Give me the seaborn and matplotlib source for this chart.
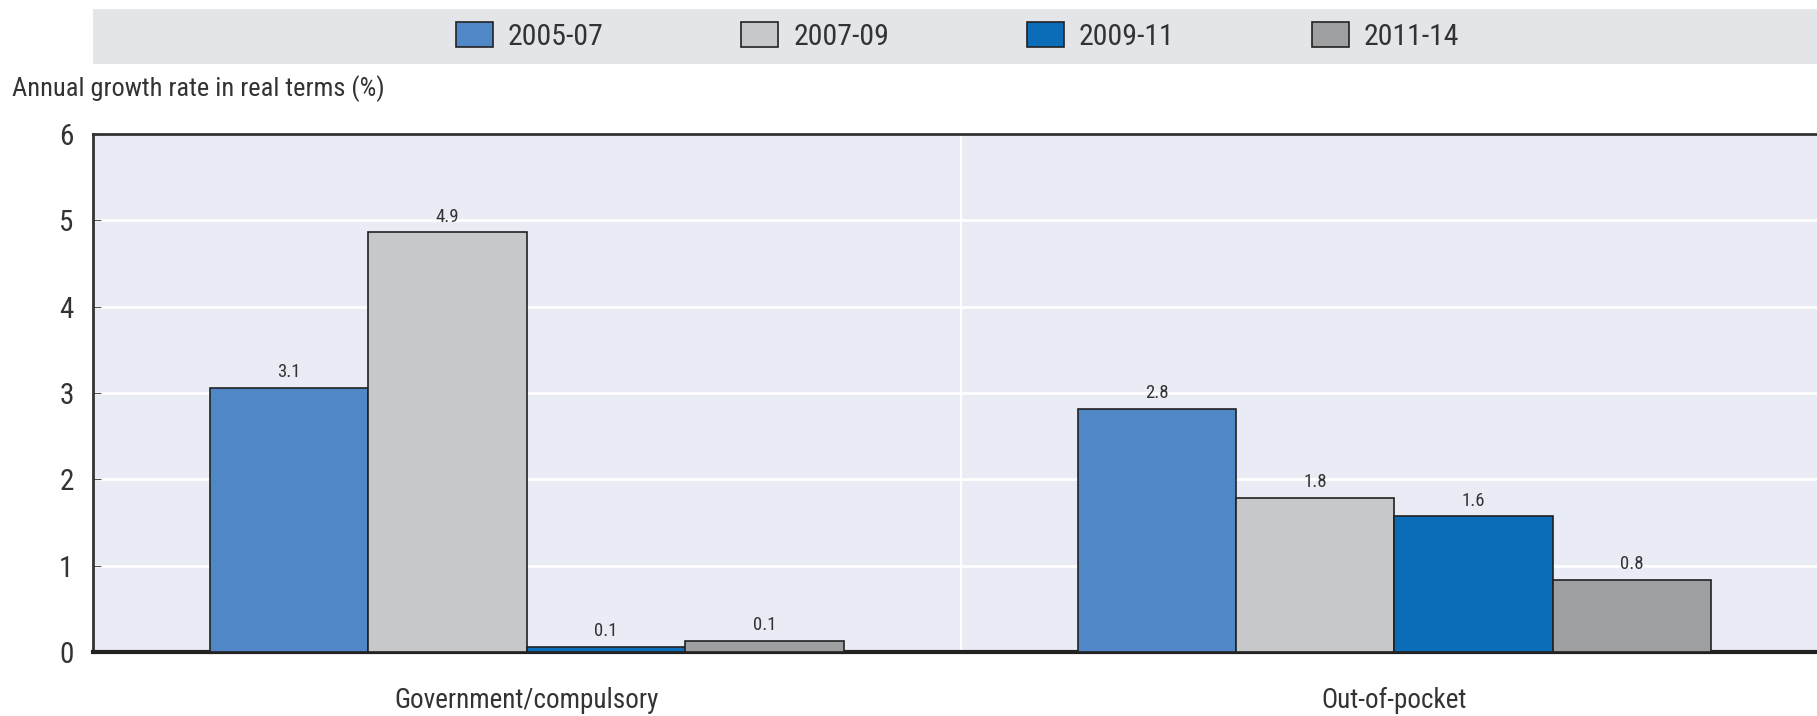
import pandas as pd
import matplotlib.pyplot as plt
import seaborn as sns
from matplotlib.patches import Rectangle

categories = ['Government/compulsory', 'Out-of-pocket']
periods = ['2005-07', '2007-09', '2009-11', '2011-14']
values_2005_07 = [3.06, 2.82]
values_2007_09 = [4.86, 1.78]
values_2009_11 = [0.06, 1.57]
values_2011_14 = [0.13, 0.83]
labels_shown = [['3.1', '2.8'], ['4.9', '1.8'], ['0.1', '1.6'], ['0.1', '0.8']]
colors = ['#4f87c7', '#c6c8ca', '#0b6cb7', '#9e9fa1']

series = [values_2005_07, values_2007_09, values_2009_11, values_2011_14]
rows = []
for p, vals in zip(periods, series):
    for c, v in zip(categories, vals):
        rows.append({'category': c, 'period': p, 'value': v})
df = pd.DataFrame(rows)

sns.set_style('white')
# condensed face, close to the narrow font of the original
plt.rcParams['font.family'] = ['Roboto Condensed', 'DejaVu Sans']
plt.rcParams['font.stretch'] = 'condensed'

fig = plt.figure(figsize=(18.17, 7.16), dpi=100)
ax = fig.add_axes([0.0512, 0.0894, 0.955, 0.7234])
ax.set_facecolor('#e9ecf5')

sns.barplot(data=df, x='category', y='value', hue='period', order=categories,
            hue_order=periods, palette=colors, width=0.73, saturation=1,
            edgecolor='#222222', linewidth=1.2, ax=ax, legend=True, zorder=3)

for cont, labs in zip(ax.containers, labels_shown):
    ax.bar_label(cont, labels=labs, padding=5, fontsize=13.5, color='#333333')

ax.set_ylim(0, 6)
ax.set_xlim(-0.5, 1.5)
ax.set_yticks(range(0, 7))
ax.grid(axis='y', color='white', linewidth=2, zorder=0)
ax.set_axisbelow(True)
ax.axvline(0.5, color='white', linewidth=1.5, zorder=1)
ax.set_xticks([0.5], minor=True)
ax.tick_params(axis='x', which='minor', direction='in', length=8, color='#555555')
ax.tick_params(axis='x', which='major', length=0, labelsize=19.5, pad=25, labelcolor='#333333')
ax.tick_params(axis='y', direction='in', length=6, labelsize=21, pad=14, labelcolor='#333333', color='#555555', left=True)

for s in ['left', 'top']:
    ax.spines[s].set_color('#333333')
    ax.spines[s].set_linewidth(2)
ax.spines['bottom'].set_color('#222222')
ax.spines['bottom'].set_linewidth(3)
ax.spines['right'].set_visible(False)
ax.set_xlabel('')
ax.set_ylabel('')

fig.text(0.0066, 0.857, 'Annual growth rate in real terms (%)', fontsize=19, color='#333333', va='bottom')

fig.add_artist(Rectangle((0.0512, 0.911), 1.0, 0.077, transform=fig.transFigure,
                         facecolor='#e3e5e8', edgecolor='none', zorder=0))
handles, labels = ax.get_legend_handles_labels()
ax.legend_.remove()
fig.legend(handles, labels, loc='center', bbox_to_anchor=(0.527, 0.949), ncol=4,
           frameon=False, fontsize=21.5, handlelength=1.25, handleheight=0.9,
           columnspacing=4.6, handletextpad=0.5, labelcolor='#333333')

fig.savefig('out.png', dpi=100)
